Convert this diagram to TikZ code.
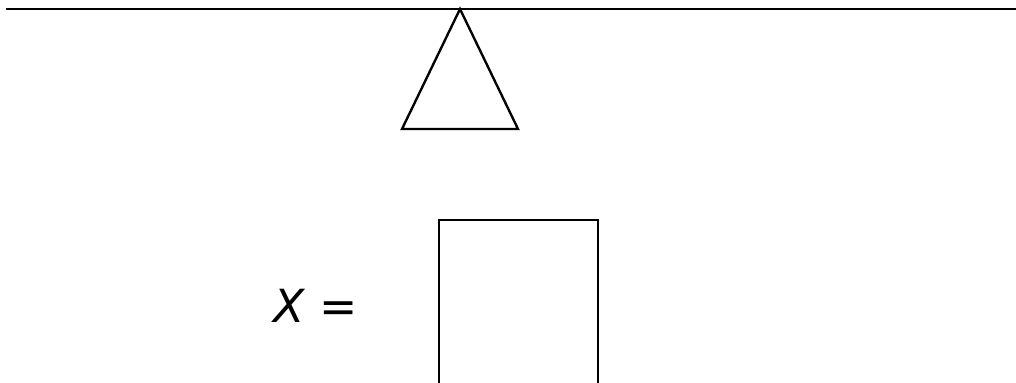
\documentclass[tikz,border=0pt]{standalone}
\usepackage{fontspec}
\setsansfont{DejaVu Sans}
\usepackage{tikz}
\usetikzlibrary{positioning, calc}

\begin{document}
\begin{tikzpicture}[x=0.02cm, y=-0.02cm, line width=1.35pt]
    \tikzstyle{box} = [rectangle, draw, anchor=north west, inner sep=0pt, minimum width=3.18cm, minimum height=3.4cm]
    \tikzstyle{label} = [font=\sffamily\itshape\fontsize{26}{30}\selectfont, inner sep=0pt]
    \useasboundingbox (0,0) rectangle (1016,382);

    % top line
    \coordinate (lineL) at (6,9);
    \coordinate (lineR) at (1016,9);
    \draw (lineL) -- (lineR);

    % triangle hanging from the line
    \coordinate (apex) at (460,9);
    \coordinate (baseL) at (402,129);
    \coordinate (baseR) at (518,129);
    \draw (apex) -- (baseL) -- (baseR) -- cycle;

    % square and its label
    \node [box] (sq) at (438,219) {};
    \node [label] (eq) at (316,306) {X =};
\end{tikzpicture}
\end{document}
